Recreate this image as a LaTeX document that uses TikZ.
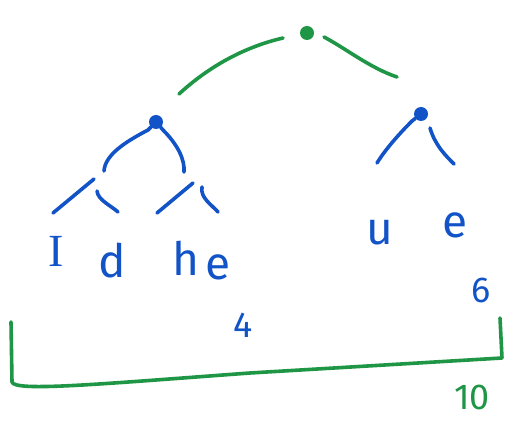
\documentclass[tikz,border=0pt]{standalone}
\usepackage{fontspec}
\setmainfont{Fira Sans}
\newfontfamily\serifI{Liberation Serif}
\definecolor{penblue}{RGB}{18,84,200}
\definecolor{pengreen}{RGB}{30,150,70}
\begin{document}
\begin{tikzpicture}[x=1pt,y=-1pt,
  bl/.style={penblue,line width=3.6pt,line cap=round},
  gr/.style={pengreen,line width=3.6pt,line cap=round},
  lab/.style={penblue,font=\fontsize{46}{46}\selectfont,inner sep=0pt},
  num/.style={penblue,font=\fontsize{36}{36}\selectfont,inner sep=0pt},
  dotb/.style={circle,fill=penblue,minimum size=14pt,inner sep=0pt},
  dotg/.style={circle,fill=pengreen,minimum size=14pt,inner sep=0pt}]
\useasboundingbox[fill=white] (0,0) rectangle (517,430);
% nodes
\node[dotg] (root) at (307,33) {};
\node[dotb] (L) at (156,122) {};
\node[dotb] (R) at (421,114) {};
% green edges
\coordinate (rl1) at (283,38); \coordinate (rl2) at (179,94);
\coordinate (rr1) at (324,37); \coordinate (rr2) at (397,77);
\draw[gr] (rl1) .. controls (240,48) and (205,70) .. (rl2);
\draw[gr] (rr1) .. controls (345,48) and (370,68) .. (rr2);
% left subtree
\coordinate (a1) at (148,130); \coordinate (a2) at (104,171);
\coordinate (b1) at (163,130); \coordinate (b2) at (184,172);
\draw[bl] (L) -- (a1) .. controls (125,142) and (105,155) .. (a2);
\draw[bl] (L) -- (b1) .. controls (178,145) and (185,160) .. (b2);
\coordinate (c1) at (94,179); \coordinate (c2) at (53,213);
\coordinate (d1) at (97,191); \coordinate (d2) at (118,212);
\coordinate (e1) at (193,183); \coordinate (e2) at (157,213);
\coordinate (f1) at (202,187); \coordinate (f2) at (218,212);
\draw[bl] (c1) -- (c2);
\draw[bl] (d1) .. controls (98,200) and (110,205) .. (d2);
\draw[bl] (e1) -- (e2);
\draw[bl] (f1) .. controls (200,198) and (212,205) .. (f2);
% right subtree
\coordinate (g1) at (412,121); \coordinate (g2) at (377,163);
\coordinate (h1) at (430,128); \coordinate (h2) at (454,164);
\draw[bl] (R) -- (g1) .. controls (398,135) and (385,150) .. (g2);
\draw[bl] (h1) .. controls (435,145) and (445,155) .. (h2);
% labels
\node[lab,font=\serifI\fontsize{46}{46}\selectfont] (tI) at (56,251) {I};
\node[lab] (td) at (112,261) {d};
\node[lab] (th) at (186,258) {h};
\node[lab] (te) at (218,267) {e};
\node[lab] (tu) at (380,233) {u};
\node[lab] (te2) at (455,225) {e};
\node[num] (n4) at (243,325) {4};
\node[num] (n6) at (481,290) {6};
\node[num,pengreen] (n10) at (472,397) {10};
% bracket
\coordinate (k1) at (11,322); \coordinate (k2) at (12,382);
\coordinate (k3) at (502,358); \coordinate (k4) at (500,318);
\draw[gr,line join=round] (k1) -- (k2) .. controls (14,392) and (100,384) .. (250,373) -- (k3) -- (k4);
\end{tikzpicture}
\end{document}
